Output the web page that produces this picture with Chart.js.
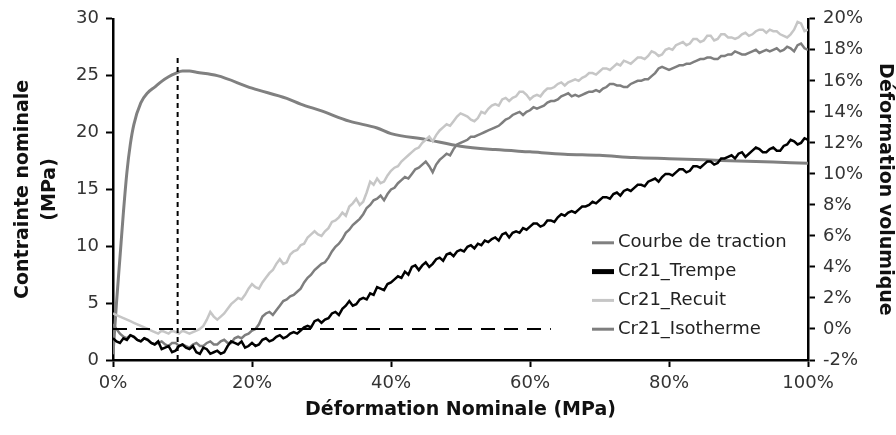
<!DOCTYPE html>
<html>
<head>
<meta charset="utf-8">
<script src="https://cdn.jsdelivr.net/npm/chart.js@4.4.1/dist/chart.umd.min.js"></script>
<style>
html,body{margin:0;padding:0;background:#ffffff;}
#wrap{width:896px;height:435px;position:relative;}
</style>
</head>
<body>
<div id="wrap"><canvas id="c" width="896" height="435"></canvas></div>
<script>
// ---------- DATA ----------
// Courbe de traction (left axis, MPa) vs déformation nominale (%)
const tractionStrain = [0,0.5,1,1.5,2,2.5,3,4,5,6,7,8,9,10,11,12,15,20,25,27,30,34,38,40,45,50,55,60,65,70,75,80,85,90,95,100];
const tractionStress = [0.5,5,9,13,16.5,19,20.7,22.6,23.5,24.0,24.5,24.9,25.2,25.4,25.4,25.3,25.0,23.9,23.0,22.5,21.9,21.0,20.4,19.9,19.4,18.8,18.5,18.3,18.1,18.0,17.8,17.7,17.6,17.5,17.4,17.3];

// Volume strain curves (right axis, %) sampled every 0.5 % of nominal strain
const strainGrid = [0,0.5,1,1.5,2,2.5,3,3.5,4,4.5,5,5.5,6,6.5,7,7.5,8,8.5,9,9.5,10,10.5,11,11.5,12,12.5,13,13.5,14,14.5,15,15.5,16,16.5,17,17.5,18,18.5,19,19.5,20,20.5,21,21.5,22,22.5,23,23.5,24,24.5,25,25.5,26,26.5,27,27.5,28,28.5,29,29.5,30,30.5,31,31.5,32,32.5,33,33.5,34,34.5,35,35.5,36,36.5,37,37.5,38,38.5,39,39.5,40,40.5,41,41.5,42,42.5,43,43.5,44,44.5,45,45.5,46,46.5,47,47.5,48,48.5,49,49.5,50,50.5,51,51.5,52,52.5,53,53.5,54,54.5,55,55.5,56,56.5,57,57.5,58,58.5,59,59.5,60,60.5,61,61.5,62,62.5,63,63.5,64,64.5,65,65.5,66,66.5,67,67.5,68,68.5,69,69.5,70,70.5,71,71.5,72,72.5,73,73.5,74,74.5,75,75.5,76,76.5,77,77.5,78,78.5,79,79.5,80,80.5,81,81.5,82,82.5,83,83.5,84,84.5,85,85.5,86,86.5,87,87.5,88,88.5,89,89.5,90,90.5,91,91.5,92,92.5,93,93.5,94,94.5,95,95.5,96,96.5,97,97.5,98,98.5,99,99.5,100];

const trempe = [-0.6,-0.8,-0.9,-0.6,-0.7,-0.4,-0.5,-0.7,-0.8,-0.6,-0.7,-0.9,-1.0,-0.8,-1.3,-1.2,-1.1,-1.5,-1.4,-1.1,-1.0,-1.2,-1.3,-1.1,-1.5,-1.6,-1.2,-1.3,-1.6,-1.5,-1.4,-1.6,-1.5,-1.1,-0.8,-0.9,-1.0,-0.8,-1.2,-1.1,-0.9,-1.1,-1.0,-0.7,-0.6,-0.8,-0.7,-0.5,-0.4,-0.6,-0.5,-0.3,-0.2,-0.3,-0.1,0.1,0.2,0.1,0.5,0.6,0.4,0.6,0.7,1.0,1.1,0.9,1.3,1.5,1.8,1.5,1.6,1.9,2.0,1.9,2.3,2.2,2.7,2.6,2.5,2.9,3.0,3.2,3.4,3.3,3.7,3.5,4.0,4.1,3.8,4.1,4.3,4.0,4.2,4.5,4.6,4.4,4.8,4.9,4.7,5.0,5.1,5.0,5.3,5.4,5.2,5.5,5.4,5.7,5.6,5.8,5.9,5.7,6.1,6.2,5.9,6.2,6.3,6.2,6.5,6.4,6.6,6.8,6.8,6.6,6.7,7.0,7.0,6.9,7.2,7.4,7.3,7.5,7.6,7.5,7.7,7.9,7.9,8.0,8.2,8.1,8.3,8.5,8.5,8.4,8.7,8.8,8.6,8.9,9.0,8.9,9.1,9.3,9.3,9.2,9.5,9.6,9.7,9.5,9.8,10.0,10.0,9.9,10.1,10.3,10.3,10.1,10.2,10.5,10.5,10.4,10.6,10.8,10.8,10.6,10.7,11.0,11.0,11.1,11.2,11.0,11.3,11.4,11.1,11.3,11.5,11.7,11.6,11.4,11.4,11.6,11.7,11.5,11.5,11.8,11.9,12.2,12.1,11.9,12.0,12.3,12.2];

const recuit = [1.0,0.9,0.8,0.7,0.6,0.5,0.4,0.3,0.2,0.1,0.0,-0.1,-0.2,-0.3,-0.1,-0.2,-0.3,-0.1,-0.2,-0.3,-0.1,-0.2,-0.3,-0.2,-0.1,0.0,0.2,0.6,1.1,0.8,0.6,0.8,1.0,1.3,1.6,1.8,2.0,1.9,2.2,2.6,2.9,2.7,2.6,3.0,3.3,3.6,3.8,4.2,4.5,4.2,4.3,4.8,5.0,5.1,5.4,5.5,5.9,6.1,6.3,6.1,6.0,6.3,6.5,6.9,7.0,7.2,7.5,7.3,7.9,8.1,8.4,8.0,8.2,8.8,9.5,9.3,9.7,9.4,9.5,9.9,10.2,10.4,10.5,10.8,11.0,11.2,11.4,11.6,11.7,12.0,12.2,12.4,12.1,12.5,12.8,13.0,13.2,13.1,13.4,13.7,13.9,13.8,13.7,13.5,13.4,13.6,14.0,13.9,14.2,14.4,14.5,14.4,14.8,14.9,14.7,14.9,15.0,15.3,15.3,15.1,14.8,15.0,15.1,15.0,15.3,15.5,15.5,15.6,15.8,15.9,15.7,15.9,16.0,16.1,16.0,16.2,16.3,16.5,16.5,16.4,16.6,16.8,16.8,16.7,16.9,17.1,17.0,17.3,17.2,17.1,17.3,17.5,17.5,17.4,17.6,17.9,17.8,17.6,17.7,18.0,18.1,18.0,18.3,18.4,18.5,18.3,18.4,18.7,18.7,18.5,18.6,18.9,18.9,18.6,18.7,19.0,19.0,18.8,18.8,18.7,18.8,19.0,19.1,18.9,19.0,19.2,19.3,19.3,19.1,19.3,19.2,19.2,19.0,18.9,18.8,19.0,19.3,19.8,19.7,19.2,19.3];

const isotherme = [0.3,0.0,-0.3,-0.5,-0.6,-0.4,-0.5,-0.7,-0.8,-0.6,-0.7,-0.9,-1.0,-0.9,-0.8,-1.0,-1.1,-0.9,-0.9,-1.1,-1.0,-1.1,-1.2,-1.0,-0.9,-1.1,-1.1,-0.9,-0.8,-1.0,-1.0,-0.8,-0.7,-0.9,-0.9,-0.6,-0.5,-0.6,-0.4,-0.3,-0.1,0.0,0.3,0.8,1.0,1.1,0.9,1.2,1.5,1.8,1.9,2.1,2.2,2.4,2.6,3.0,3.3,3.5,3.8,4.0,4.2,4.3,4.6,5.0,5.3,5.5,5.8,6.2,6.4,6.7,6.9,7.1,7.4,7.8,8.0,8.3,8.4,8.6,8.3,8.7,9.0,9.1,9.4,9.6,9.8,9.7,10.0,10.3,10.4,10.6,10.8,10.5,10.1,10.6,10.9,11.1,11.3,11.2,11.6,11.9,12.0,12.1,12.2,12.4,12.4,12.5,12.6,12.7,12.8,12.9,13.0,13.1,13.3,13.5,13.6,13.8,13.9,14.0,13.8,14.0,14.1,14.3,14.2,14.3,14.4,14.6,14.7,14.7,14.8,15.0,15.1,15.2,15.0,15.1,15.0,15.1,15.2,15.3,15.3,15.4,15.3,15.5,15.6,15.8,15.8,15.7,15.7,15.6,15.6,15.8,15.9,16.0,16.0,16.1,16.1,16.3,16.5,16.8,16.9,16.8,16.7,16.8,16.9,17.0,17.0,17.1,17.1,17.2,17.3,17.4,17.4,17.5,17.5,17.4,17.4,17.6,17.6,17.7,17.7,17.9,17.8,17.7,17.7,17.8,17.9,18.0,17.8,17.9,18.0,17.9,18.0,18.1,17.9,18.0,18.2,18.1,17.9,18.3,18.4,18.1,18.0];

// Reference lines
const peakStrain = [9.3, 9.3];
const peakLineStress = [0, 26.7];
const zeroLineStrain = [0, 63];
const zeroLineVol = [0, 0];

// Labels
const seriesLabels = ['Courbe de traction', 'Cr21_Trempe', 'Cr21_Recuit', 'Cr21_Isotherme'];
const xTitle = 'Déformation Nominale (MPa)';
const yTitle = ['Contrainte nominale', '(MPa)'];
const y1Title = 'Déformation volumique';

// ---------- BUILD ----------
const pts = (xs, ys) => xs.map((x, i) => ({x: x, y: ys[i]}));
const FONT = '"DejaVu Sans", "Liberation Sans", Arial, sans-serif';

const datasets = [
  {label: seriesLabels[1], data: pts(strainGrid, trempe), yAxisID: 'y1', borderColor: '#000000', borderWidth: 2.5, legendWidth: 5, showInLegend: true, order: 1},
  {label: seriesLabels[2], data: pts(strainGrid, recuit), yAxisID: 'y1', borderColor: '#c6c6c6', borderWidth: 2.5, legendWidth: 3, showInLegend: true, order: 3},
  {label: seriesLabels[3], data: pts(strainGrid, isotherme), yAxisID: 'y1', borderColor: '#7e7e7e', borderWidth: 2.5, legendWidth: 3, showInLegend: true, order: 2},
  {label: seriesLabels[0], data: pts(tractionStrain, tractionStress), yAxisID: 'y', borderColor: '#808080', borderWidth: 3, legendWidth: 3, showInLegend: true, cubicInterpolationMode: 'monotone', order: 4},
  {label: 'peak', data: pts(peakStrain, peakLineStress), yAxisID: 'y', borderColor: '#000000', borderWidth: 2, borderDash: [5, 4], showInLegend: false, order: 0},
  {label: 'zero', data: pts(zeroLineStrain, zeroLineVol), yAxisID: 'y1', borderColor: '#000000', borderWidth: 2, borderDash: [14, 9], showInLegend: false, order: 0}
];
datasets.forEach(d => { d.pointRadius = 0; d.fill = false; d.backgroundColor = d.borderColor; });

const legendOrder = [seriesLabels[0], seriesLabels[1], seriesLabels[2], seriesLabels[3]];

const customLegend = {
  id: 'customLegend',
  afterDraw(chart) {
    const ctx = chart.ctx;
    const area = chart.chartArea;
    const x0 = area.right - 216, y0 = area.top + 224, step = 28.8;
    ctx.save();
    ctx.font = '18px ' + FONT;
    ctx.textBaseline = 'middle';
    ctx.textAlign = 'left';
    legendOrder.forEach((lab, i) => {
      const d = chart.data.datasets.find(ds => ds.label === lab);
      const y = y0 + i * step;
      ctx.strokeStyle = d.borderColor;
      ctx.lineWidth = d.legendWidth;
      ctx.setLineDash([]);
      ctx.beginPath(); ctx.moveTo(x0, y); ctx.lineTo(x0 + 22, y); ctx.stroke();
      ctx.fillStyle = '#222222';
      ctx.fillText(lab, x0 + 26, y);
    });
    ctx.restore();
  }
};

const tickFont = {family: FONT, size: 18};
const titleFont = {family: FONT, size: 19, weight: 'bold'};

new Chart(document.getElementById('c'), {
  type: 'line',
  data: {datasets: datasets},
  options: {
    responsive: false,
    animation: false,
    devicePixelRatio: 1,
    layout: {padding: {top: 17, right: 0, bottom: 0, left: 0}},
    plugins: {legend: {display: false}, tooltip: {enabled: false}},
    scales: {
      x: {
        type: 'linear', position: 'bottom', min: 0, max: 100,
        afterFit: s => { s.height = 75; },
        ticks: {stepSize: 20, callback: v => v + '%', font: tickFont, color: '#333333', padding: 6, maxRotation: 0},
        grid: {drawOnChartArea: false, tickLength: 7, tickWidth: 2, tickColor: '#000000'},
        border: {color: '#000000', width: 2.5},
        title: {display: true, text: xTitle, font: titleFont, color: '#111111', padding: {top: 0, bottom: 14}}
      },
      y: {
        type: 'linear', position: 'left', min: 0, max: 30,
        afterFit: s => { s.width = 113; },
        ticks: {stepSize: 5, font: tickFont, color: '#333333', padding: 7},
        grid: {drawOnChartArea: false, tickLength: 7, tickWidth: 2, tickColor: '#000000'},
        border: {color: '#000000', width: 2.5},
        title: {display: true, text: yTitle, font: {family: FONT, size: 19, weight: 'bold', lineHeight: 1.45}, color: '#111111', padding: {top: 9, bottom: 0}}
      },
      y1: {
        type: 'linear', position: 'right', min: -2, max: 20,
        afterFit: s => { s.width = 88; },
        ticks: {stepSize: 2, callback: v => v + '%', font: tickFont, color: '#333333', padding: 8},
        grid: {drawOnChartArea: false, tickLength: 7, tickWidth: 2, tickColor: '#000000'},
        border: {color: '#000000', width: 2.5},
        title: {display: true, text: y1Title, font: titleFont, color: '#111111', padding: {top: 0, bottom: 0}}
      }
    }
  },
  plugins: [customLegend]
});
</script>
</body>
</html>
